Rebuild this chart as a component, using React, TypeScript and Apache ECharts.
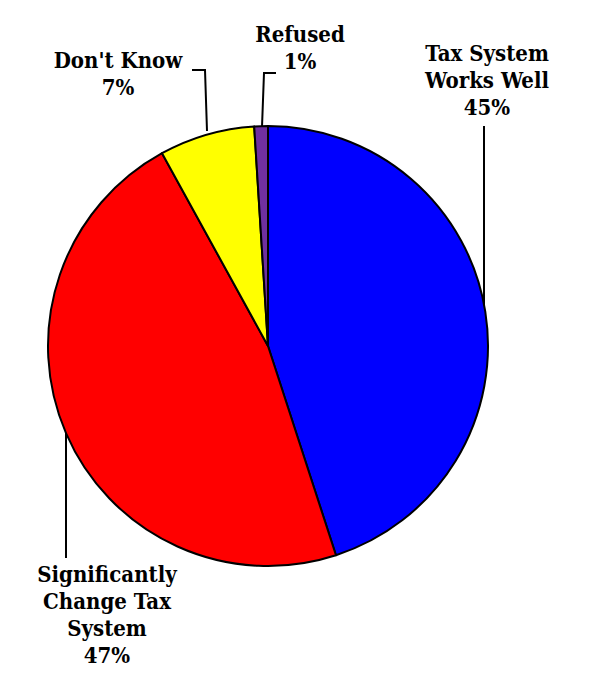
import React, { useEffect, useRef } from "react";
import * as echarts from "echarts";

const categories = [
  "Tax System\nWorks Well",
  "Significantly\nChange Tax\nSystem",
  "Don't Know",
  "Refused",
];
const values = [45, 47, 7, 1];
const colors = ["#0000FF", "#FF0000", "#FFFF00", "#7030A0"];

// label anchor (center) and leader line points, in chart pixels
const labelLayouts = [
  { x: 487, y: 80, line: [[484, 313], [484, 200], [484, 126]] },
  { x: 107, y: 614, line: [[66, 430], [66, 500], [66, 558]] },
  { x: 118, y: 73, line: [[207, 131], [205, 70], [192, 70]] },
  { x: 300, y: 47, line: [[262, 127], [264, 73], [276, 73]] },
];

const FONT = "'DejaVu Serif Condensed', 'DejaVu Serif', serif";

export default function App() {
  const ref = useRef<HTMLDivElement>(null);
  useEffect(() => {
    if (!ref.current) return;
    const chart = echarts.init(ref.current, undefined, { renderer: "svg" });
    chart.setOption({
      animation: false,
      backgroundColor: "#ffffff",
      textStyle: { fontFamily: FONT },
      series: [
        {
          type: "pie",
          center: [268, 346],
          radius: [0, 220],
          startAngle: 90,
          clockwise: true,
          avoidLabelOverlap: false,
          data: categories.map((name, i) => ({
            name,
            value: values[i],
            itemStyle: { color: colors[i] },
          })),
          itemStyle: { borderColor: "#000000", borderWidth: 2 },
          label: {
            show: true,
            formatter: (p: any) => `${p.name}\n${p.value}%`,
            fontFamily: FONT,
            fontWeight: "bold",
            fontSize: 22,
            lineHeight: 27,
            color: "#000000",
            align: "center",
            overflow: "none",
            width: 300,
          },
          labelLine: {
            show: true,
            lineStyle: { color: "#000000", width: 2 },
          },
          labelLayout: (params: any) => {
            const l = labelLayouts[params.dataIndex];
            return {
              x: l.x,
              y: l.y,
              align: "center",
              verticalAlign: "middle",
              labelLinePoints: l.line,
            };
          },
          emphasis: { disabled: true },
        },
      ],
    });
    return () => chart.dispose();
  }, []);
  return (
    <div
      ref={ref}
      style={{ position: "fixed", left: 0, top: 0, width: 593, height: 686, background: "#fff" }}
    />
  );
}
